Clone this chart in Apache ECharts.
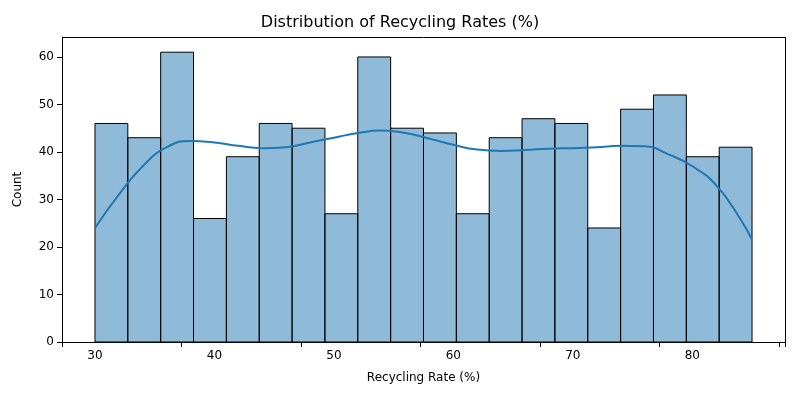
<!DOCTYPE html>
<html>
<head>
<meta charset="utf-8">
<script src="https://cdn.jsdelivr.net/npm/echarts@6/dist/echarts.min.js"></script>
<style>html,body{margin:0;padding:0;background:#fff}#main{width:800px;height:400px}</style>
</head>
<body>
<div id="main"></div>
<script>
var binStart = 30;
var binWidth = 2.75;
var counts = [46, 43, 61, 26, 39, 46, 45, 27, 60, 45, 44, 27, 43, 47, 46, 24, 49, 52, 39, 41];
var kdeX = [30, 32, 34, 36, 38, 40, 42, 44, 46, 48, 50, 52, 54, 56, 58, 60, 62, 64, 66, 68, 70, 72, 74, 76, 78, 80, 82, 84, 85];
var kdeY = [24, 31, 37, 41, 42.3, 42, 41.3, 40.8, 41, 42, 43, 44, 44.5, 44, 42.8, 41.5, 40.5, 40.2, 40.4, 40.7, 40.8, 41, 41.3, 41.2, 39.5, 37, 33, 26, 21.5];

var bins = [];
for (var i = 0; i < counts.length; i++) {
	bins.push([binStart + i * binWidth, binStart + (i + 1) * binWidth, counts[i]]);
}
var kde = [];
for (var j = 0; j < kdeX.length; j++) {
	kde.push([kdeX[j], kdeY[j]]);
}

var myChart = echarts.init(document.getElementById('main'));
var option = {
	animation: false,
	title: {
		text: 'Distribution of Recycling Rates (%)',
		left: 'center',
		top: 10,
		textStyle: {fontSize: 16, fontWeight: 'normal', color: '#000', fontFamily: 'DejaVu Sans'}
	},
	grid: {left: 62, right: 15, top: 37, bottom: 58},
	xAxis: {
		type: 'value',
		min: 27.24,
		max: 87.76,
		interval: 10,
		name: 'Recycling Rate (%)',
		nameLocation: 'middle',
		nameGap: 30,
		nameTextStyle: {color: '#000', fontSize: 12, fontFamily: 'DejaVu Sans'},
		splitLine: {show: false},
		axisLine: {onZero: false, lineStyle: {color: '#000'}},
		axisTick: {show: true, lineStyle: {color: '#000'}},
		axisLabel: {
			color: '#000', fontSize: 12, fontFamily: 'DejaVu Sans',
			customValues: [30, 40, 50, 60, 70, 80]
		}
	},
	yAxis: {
		type: 'value',
		min: 0,
		max: 64.2,
		interval: 10,
		name: 'Count',
		nameLocation: 'middle',
		nameGap: 38,
		nameTextStyle: {color: '#000', fontSize: 12, fontFamily: 'DejaVu Sans'},
		splitLine: {show: false},
		axisLine: {show: true, lineStyle: {color: '#000'}},
		axisTick: {show: true, lineStyle: {color: '#000'}},
		axisLabel: {color: '#000', fontSize: 12, fontFamily: 'DejaVu Sans', showMaxLabel: false}
	},
	series: [{
		type: 'custom',
		data: bins,
		renderItem: function(params, api) {
			var p0 = api.coord([api.value(0), api.value(2)]);
			var p1 = api.coord([api.value(1), 0]);
			return {
				type: 'rect',
				shape: {x: p0[0], y: p0[1], width: p1[0] - p0[0], height: p1[1] - p0[1]},
				style: {fill: 'rgba(31,119,180,0.5)', stroke: '#000', lineWidth: 1}
			};
		}
	}, {
		type: 'line',
		data: kde,
		smooth: true,
		showSymbol: false,
		lineStyle: {color: '#1f77b4', width: 2}
	}, {
		// top/right frame
		type: 'line',
		data: [],
		markLine: {
			silent: true, symbol: 'none', label: {show: false},
			lineStyle: {color: '#000', type: 'solid', width: 1},
			data: [[{coord: [27.24, 64.2]}, {coord: [87.76, 64.2]}], [{coord: [87.76, 0]}, {coord: [87.76, 64.2]}]]
		}
	}]
};
myChart.setOption(option);
</script>
</body>
</html>
